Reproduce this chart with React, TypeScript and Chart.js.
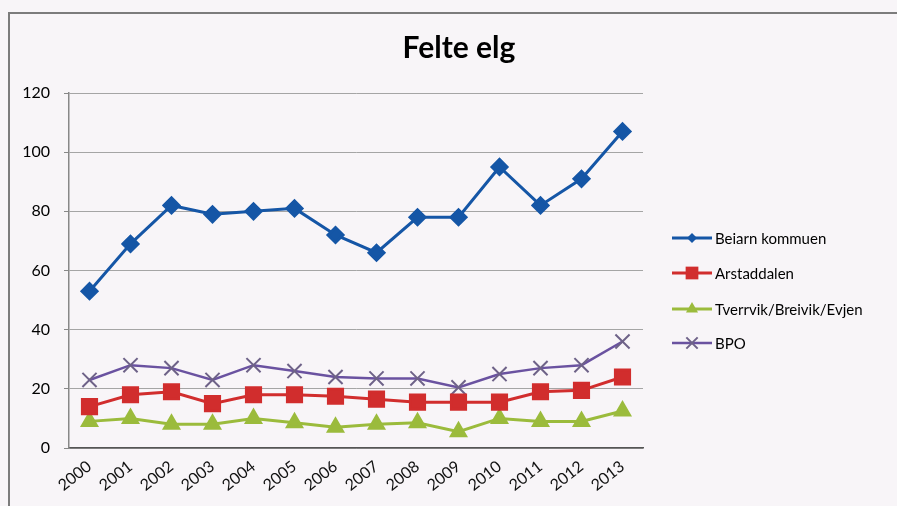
import React, { useEffect, useRef } from 'react';
import { Chart, registerables } from 'chart.js';

Chart.register(...registerables);

const years = ['2000', '2001', '2002', '2003', '2004', '2005', '2006', '2007', '2008', '2009', '2010', '2011', '2012', '2013'];
const beiarn = [53, 69, 82, 79, 80, 81, 72, 66, 78, 78, 95, 82, 91, 107];
const arstaddalen = [14, 18, 19, 15, 18, 18, 17.5, 16.5, 15.5, 15.5, 15.5, 19, 19.5, 24];
const tverrvik = [9, 10, 8, 8, 10, 8.5, 7, 8, 8.5, 5.5, 10, 9, 9, 12.5];
const bpo = [23, 28, 27, 23, 28, 26, 24, 23.5, 23.5, 20.5, 25, 27, 28, 36];
const yTicks = [0, 20, 40, 60, 80, 100, 120];

const titleText = 'Felte elg';
const FONT = 'Lato, "Open Sans", sans-serif';

function drawMarker(ctx: CanvasRenderingContext2D, style: string, x: number, y: number, r: number, color: string) {
  ctx.save();
  ctx.fillStyle = color;
  ctx.strokeStyle = color;
  ctx.lineWidth = 2;
  ctx.beginPath();
  if (style === 'rectRot') {
    ctx.moveTo(x, y - r); ctx.lineTo(x + r, y); ctx.lineTo(x, y + r); ctx.lineTo(x - r, y); ctx.closePath(); ctx.fill();
  } else if (style === 'rect') {
    const s = r * Math.SQRT1_2;
    ctx.rect(x - s, y - s, 2 * s, 2 * s); ctx.fill();
  } else if (style === 'triangle') {
    ctx.moveTo(x, y - r);
    ctx.lineTo(x + r * Math.sin(Math.PI / 3), y + r / 2);
    ctx.lineTo(x - r * Math.sin(Math.PI / 3), y + r / 2);
    ctx.closePath(); ctx.fill();
  } else {
    const o = r * Math.SQRT1_2;
    ctx.moveTo(x - o, y - o); ctx.lineTo(x + o, y + o);
    ctx.moveTo(x - o, y + o); ctx.lineTo(x + o, y - o); ctx.stroke();
  }
  ctx.restore();
}

const decoPlugin = {
  id: 'deco',
  beforeDraw(chart: any) {
    const ctx = chart.ctx as CanvasRenderingContext2D;
    ctx.save();
    ctx.fillStyle = '#f8f5f8';
    ctx.fillRect(0, 0, chart.width, chart.height);
    ctx.strokeStyle = '#7c7c7c';
    ctx.lineWidth = 2;
    ctx.beginPath();
    ctx.moveTo(9, chart.height);
    ctx.lineTo(9, 13);
    ctx.lineTo(chart.width, 13);
    ctx.stroke();
    ctx.restore();
  },
  afterDraw(chart: any) {
    const ctx = chart.ctx as CanvasRenderingContext2D;
    ctx.save();
    ctx.fillStyle = '#000';
    ctx.font = `bold 30px ${FONT}`;
    ctx.textAlign = 'center';
    ctx.textBaseline = 'middle';
    ctx.fillText(titleText, 459, 48);
    const rows = [238, 273, 309, 343];
    chart.data.datasets.forEach((ds: any, i: number) => {
      const y = rows[i];
      ctx.strokeStyle = ds.borderColor;
      ctx.lineWidth = ds.borderWidth;
      ctx.beginPath();
      ctx.moveTo(672, y);
      ctx.lineTo(712, y);
      ctx.stroke();
      drawMarker(ctx, ds.pointStyle, 692, y, ds.legendRadius, ds.pointBorderColor);
      ctx.fillStyle = '#000';
      ctx.font = `15px ${FONT}`;
      ctx.textAlign = 'left';
      ctx.textBaseline = 'middle';
      ctx.fillText(ds.label, 715, y + 1);
    });
    ctx.restore();
  },
};

export default function App() {
  const ref = useRef<HTMLCanvasElement | null>(null);
  useEffect(() => {
    if (!ref.current) return;
    const chart = new Chart(ref.current, {
      type: 'line',
      data: {
        labels: years,
        datasets: [
          { label: 'Beiarn kommuen', data: beiarn, borderColor: '#1556a6', backgroundColor: '#1556a6', pointBackgroundColor: '#1556a6', pointBorderColor: '#1556a6', borderWidth: 3, pointStyle: 'rectRot', pointRadius: 7.5, legendRadius: 5 } as any,
          { label: 'Arstaddalen', data: arstaddalen, borderColor: '#d12d2d', backgroundColor: '#d12d2d', pointBackgroundColor: '#d12d2d', pointBorderColor: '#d12d2d', borderWidth: 3, pointStyle: 'rect', pointRadius: 10, legendRadius: 9 } as any,
          { label: 'Tverrvik/Breivik/Evjen', data: tverrvik, borderColor: '#9bbb3c', backgroundColor: '#9bbb3c', pointBackgroundColor: '#9bbb3c', pointBorderColor: '#9bbb3c', borderWidth: 3, pointStyle: 'triangle', pointRadius: 8, legendRadius: 7 } as any,
          { label: 'BPO', data: bpo, borderColor: '#6a52a0', backgroundColor: '#6a52a0', pointBackgroundColor: '#6a52a0', pointBorderColor: '#6e6288', borderWidth: 2.5, pointStyle: 'crossRot', pointRadius: 10, pointBorderWidth: 2, legendRadius: 8 } as any,
        ],
      },
      options: {
        responsive: false,
        animation: false,
        layout: { padding: { left: 10, right: 254, top: 93, bottom: 8 } },
        plugins: { legend: { display: false }, title: { display: false }, tooltip: { enabled: false } },
        elements: { line: { tension: 0 }, point: { borderWidth: 1 } },
        scales: {
          x: {
            offset: true,
            grid: { display: false, drawTicks: false },
            border: { color: '#555', width: 1.5 },
            ticks: { minRotation: 38, maxRotation: 38, autoSkip: false, color: '#111', font: { family: FONT, size: 16 }, padding: 9 },
            afterFit: (s: any) => { s.height = 50; },
          },
          y: {
            min: 0,
            max: 120,
            afterBuildTicks: (s: any) => { s.ticks = yTicks.map((v) => ({ value: v })); },
            grid: { color: '#a5a5a5', lineWidth: 1, drawTicks: true, tickLength: 5, tickColor: '#888' },
            border: { color: '#888', width: 1.5 },
            ticks: { color: '#000', font: { family: FONT, size: 16 }, padding: 14 },
            afterFit: (s: any) => { s.width = 59; },
          },
        },
      },
      plugins: [decoPlugin],
    });
    return () => chart.destroy();
  }, []);
  return (
    <div style={{ position: 'fixed', left: 0, top: 0, width: 897, height: 506 }}>
      <canvas ref={ref} width={897} height={506} style={{ display: 'block', width: 897, height: 506 }} />
    </div>
  );
}
